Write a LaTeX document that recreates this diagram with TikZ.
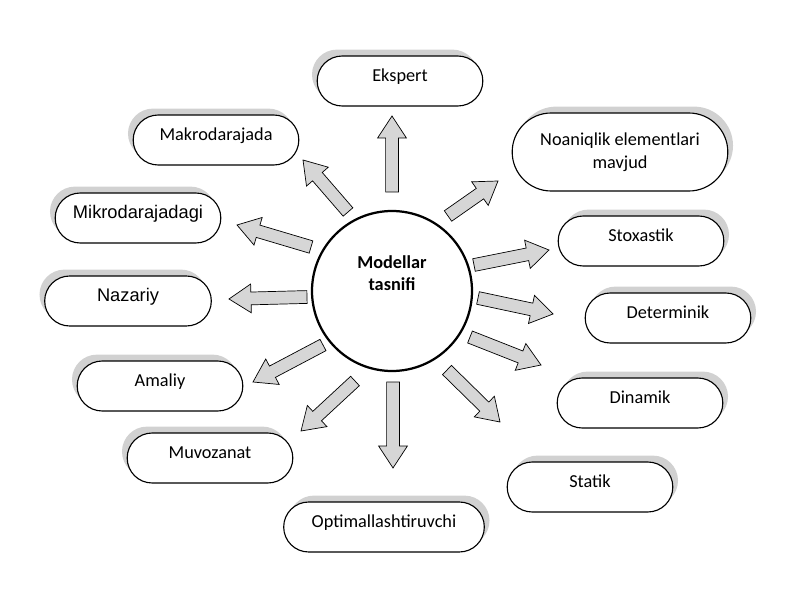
\documentclass[tikz,border=0pt]{standalone}
\usepackage{fontspec}
\setmainfont{Carlito}
\newfontfamily\arialfont{Liberation Sans}
\usetikzlibrary{positioning}
\usetikzlibrary{calc}
\usetikzlibrary{shapes.misc}
\usetikzlibrary{shadows}

\begin{document}
\begin{tikzpicture}[
        turbox/.style={rounded rectangle, draw=black, line width=0.8pt, fill=white, align=center,
                       text height=0.34cm, text depth=0.30cm},
        ikkiqator/.style={text height={}, text depth={}, yshift=0pt},
        markaz/.style={circle, draw=black, line width=1.6pt, fill=white, minimum size=4cm},
        blokstrelka/.style={draw=black, line width=0.5pt, fill=gray!32}
    ]

        \useasboundingbox (0,0) rectangle (20,15);

        % Turlar
        \foreach \pos/\name/\w/\h/\sx/\fnt/\txt in {
                {(10.0,12.975)/ekspert/4.375/1.25/-0.13/\rmfamily/Ekspert},
                {(16.025,8.975)/stoxastik/4.375/1.25/0.13/\rmfamily/Stoxastik},
                {(16.7,7.05)/determinik/4.375/1.25/0.13/\rmfamily/Determinik},
                {(16.0,4.925)/dinamik/4.375/1.25/0.13/\rmfamily/Dinamik},
                {(14.75,2.825)/statik/4.375/1.25/0.13/\rmfamily/Statik},
                {(9.6,1.825)/optimal/5.25/1.25/0.13/\rmfamily/Optimallashtiruvchi},
                {(5.25,3.55)/muvozanat/4.375/1.25/-0.13/\rmfamily/Muvozanat},
                {(4.0,5.35)/amaliy/4.375/1.25/-0.13/\rmfamily/Amaliy},
                {(3.2,7.475)/nazariy/4.4/1.25/-0.13/\arialfont/Nazariy},
                {(3.45,9.55)/mikro/4.375/1.25/-0.13/\arialfont/Mikrodarajadagi},
                {(5.4,11.5)/makro/4.375/1.25/-0.13/\rmfamily/Makrodarajada}}
            \node[turbox, minimum width=\w cm, minimum height=\h cm,
                  font=\fnt\fontsize{13}{16}\selectfont,
                  drop shadow={shadow xshift=\sx cm, shadow yshift=0.16cm, fill=gray!65, opacity=0.55}]
                (\name) at \pos {\txt};

        \node[turbox, ikkiqator, minimum width=5.625cm, minimum height=1.95cm,
              font=\fontsize{13}{16}\selectfont,
              drop shadow={shadow xshift=0.13cm, shadow yshift=0.16cm, fill=gray!65, opacity=0.55}]
            (noaniqlik) at (15.5,11.2) {Noaniqlik elementlari\\mavjud};

        % Markaz
        \node[markaz] (markaz) at (9.8,7.725) {};
        \node[font=\bfseries\fontsize{13}{16}\selectfont, align=center] (sarlavha)
            at ([yshift=0.44cm]markaz.center) {Modellar\\tasnifi};

        % Strelkalar
        \foreach \name/\ax/\ay/\bx/\by in {ekspert/9.8/10.2/9.8/12.1,
                makro/8.7/9.7/7.575/11.0, mikro/7.775/8.825/5.925/9.375,
                nazariy/7.675/7.575/5.725/7.525, amaliy/8.075/6.375/6.325/5.45,
                muvozanat/8.875/5.475/7.525/4.225, optimal/9.825/5.45/9.825/3.3,
                statik/11.175/5.75/12.5/4.45, dinamik/11.75/6.575/13.525/5.875,
                determinik/11.95/7.55/13.825/7.15, stoxastik/11.85/8.375/13.725/8.75,
                noaniqlik/11.2/9.6/12.45/10.475}
        {
            \coordinate (d-\name) at (\ax,\ay);
            \coordinate (u-\name) at (\bx,\by);
            \draw[blokstrelka] let \p1=($(u-\name)-(d-\name)$), \n1={atan2(\y1,\x1)} in
                ($(d-\name)+(\n1+90:0.16)$)
                -- ($(u-\name)+(\n1+180:0.55)+(\n1+90:0.16)$)
                -- ($(u-\name)+(\n1+180:0.55)+(\n1+90:0.36)$)
                -- (u-\name)
                -- ($(u-\name)+(\n1+180:0.55)+(\n1-90:0.36)$)
                -- ($(u-\name)+(\n1+180:0.55)+(\n1-90:0.16)$)
                -- ($(d-\name)+(\n1-90:0.16)$) -- cycle;
        }

\end{tikzpicture}
\end{document}
